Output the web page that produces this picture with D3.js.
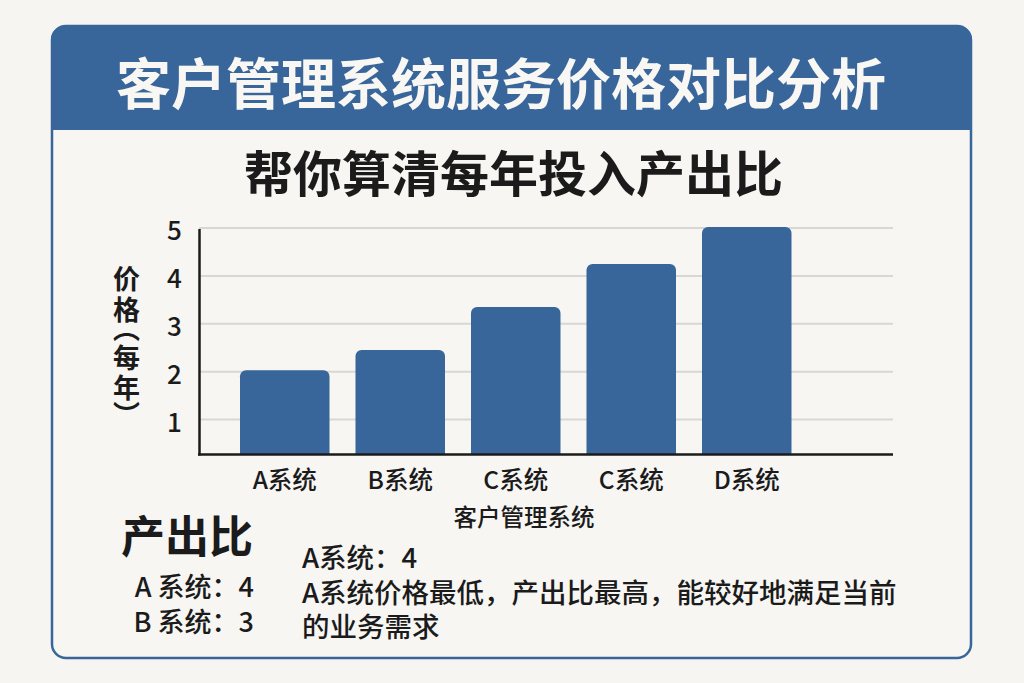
<!doctype html>
<html>
<head>
<meta charset="utf-8" />
<title>客户管理系统服务价格对比分析</title>
<script src="https://d3js.org/d3.v7.min.js"></script>
<style type="text/css">
html, body { margin: 0; padding: 0; background: #f6f5f2; }
svg { display: block; }
text { font-family: "Noto Sans CJK SC", sans-serif; fill: #1b1b1b; }
</style>
</head>
<body>
<div id="chart"></div>
<script type="text/javascript">
var titleText = '客户管理系统服务价格对比分析';
var subtitleText = '帮你算清每年投入产出比';
var categories = ['A系统', 'B系统', 'C系统', 'C系统', 'D系统'];
var prices = [2.03, 2.45, 3.35, 4.25, 5.02];
var tickValues = [1, 2, 3, 4, 5];
var yTitle = '价格︵每年︶';
var xTitle = '客户管理系统';
var ratioTitle = '产出比';
var ratioLines = ['A 系统：4', 'B 系统：3'];
var noteLines = ['A系统：4', 'A系统价格最低，产出比最高，能较好地满足当前', '的业务需求'];

var blue = '#38669b';
var svg = d3.select('#chart').append('svg').attr('width', 1024).attr('height', 683);

// card and header
svg.append('rect').attr('x', 52).attr('y', 26).attr('width', 919).attr('height', 632)
	.attr('rx', 14).attr('fill', '#f7f6f3').attr('stroke', blue).attr('stroke-width', 2.5);
svg.append('path').attr('fill', blue)
	.attr('d', 'M51,130V40a14,14 0 0 1 14,-14H958a14,14 0 0 1 14,14V130Z');

svg.append('text').attr('x', 501).attr('y', 104).attr('text-anchor', 'middle')
	.attr('font-size', 55).attr('font-weight', 700).style('fill', '#f8f7f3').text(titleText);
svg.append('text').attr('x', 513.5).attr('y', 192).attr('text-anchor', 'middle')
	.attr('font-size', 49).attr('font-weight', 700).text(subtitleText);

// chart
var x = d3.scaleBand().domain(d3.range(categories.length)).range([227, 804.5])
	.paddingInner(0.225).paddingOuter(0.1125);
var y = d3.scaleLinear().domain([0.27, 5]).range([454.5, 228]);

svg.append('g').selectAll('line').data(tickValues).enter().append('line')
	.attr('x1', 199).attr('x2', 893)
	.attr('y1', function(d) { return y(d); }).attr('y2', function(d) { return y(d); })
	.attr('stroke', '#d8d7d3').attr('stroke-width', 2);

svg.append('g').selectAll('path').data(prices).enter().append('path')
	.attr('fill', blue)
	.attr('d', function(d, i) {
		var x0 = x(i), w = x.bandwidth(), t = y(d), r = 6;
		return 'M' + x0 + ',' + y(0.27) + 'V' + (t + r) + 'a' + r + ',' + r + ' 0 0 1 ' + r + ',' + (-r) +
			'H' + (x0 + w - r) + 'a' + r + ',' + r + ' 0 0 1 ' + r + ',' + r + 'V' + y(0.27) + 'Z';
	});

var yAxis = d3.axisLeft(y).tickValues(tickValues).tickSize(0).tickFormat(d3.format('d'));
var yG = svg.append('g').attr('transform', 'translate(199,0)').call(yAxis);
yG.select('.domain').remove();
yG.selectAll('text').attr('x', -32).attr('dy', '0.46em').attr('text-anchor', 'start')
	.style('font-family', '"Noto Sans CJK SC"').attr('font-size', 26).attr('font-weight', 500)
	.style('fill', '#1b1b1b');

var xAxis = d3.axisBottom(x).tickSize(0).tickFormat(function(i) { return categories[i]; });
var xG = svg.append('g').attr('transform', 'translate(0,454.5)').call(xAxis);
xG.select('.domain').remove();
xG.selectAll('text').attr('y', 27).attr('dy', '0.32em')
	.style('font-family', '"Noto Sans CJK SC"').attr('font-size', 24.5).attr('font-weight', 500)
	.style('fill', '#1b1b1b');

svg.append('line').attr('x1', 199.5).attr('x2', 199.5).attr('y1', 229).attr('y2', 455.5)
	.attr('stroke', '#1b1b1b').attr('stroke-width', 2.5);
svg.append('line').attr('x1', 198).attr('x2', 893).attr('y1', 454.5).attr('y2', 454.5)
	.attr('stroke', '#1b1b1b').attr('stroke-width', 2.5);

// axis titles, one text with a y for each glyph because the brackets sit tight
var yTitleBase = [289, 320, 339, 368, 398, 425];
svg.append('text').attr('text-anchor', 'middle').attr('font-size', 27).attr('font-weight', 700)
	.attr('x', yTitleBase.map(function() { return 126.5; }).join(' '))
	.attr('y', yTitleBase.join(' '))
	.text(yTitle);
svg.append('text').attr('x', 524).attr('y', 526).attr('text-anchor', 'middle')
	.attr('font-size', 23.5).attr('font-weight', 500).text(xTitle);

// bottom notes
svg.append('text').attr('x', 187).attr('y', 553).attr('text-anchor', 'middle')
	.attr('font-size', 44).attr('font-weight', 700).text(ratioTitle);
svg.append('text').attr('text-anchor', 'end').attr('font-size', 27).attr('font-weight', 500)
	.selectAll('tspan').data(ratioLines).enter().append('tspan')
	.attr('x', 254)
	.attr('y', function(d, i) { return 597 + i * 35; })
	.text(function(d) { return d; });
svg.append('text').attr('font-size', 27.5).attr('font-weight', 500)
	.selectAll('tspan').data(noteLines).enter().append('tspan')
	.attr('x', 302)
	.attr('y', function(d, i) { return 568 + i * 34.5; })
	.text(function(d) { return d; });
</script>
</body>
</html>
